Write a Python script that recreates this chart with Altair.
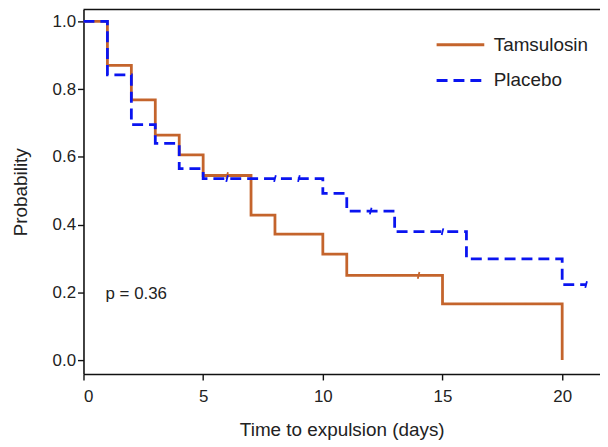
import altair as alt
import pandas as pd

# Kaplan-Meier step data
tam_time = [0, 1, 2, 3, 4, 5, 7, 8, 10, 11, 15, 20]
tam_surv = [1.0, 0.870, 0.768, 0.664, 0.606, 0.545, 0.428, 0.372, 0.313, 0.250, 0.166, 0.0]
pla_time = [0, 1, 2, 3, 4, 5, 10, 11, 13, 16, 20, 21]
pla_surv = [1.0, 0.842, 0.695, 0.640, 0.565, 0.536, 0.492, 0.440, 0.379, 0.299, 0.223, 0.223]

# censored observations
tam_cens_time = [6, 14]
tam_cens_surv = [0.545, 0.250]
pla_cens_time = [6, 8, 9, 12, 15, 21]
pla_cens_surv = [0.536, 0.536, 0.536, 0.440, 0.379, 0.223]

series = ["Tamsulosin", "Placebo"]
colors = ["#C4642C", "#0A14F0"]

x_ticks = [0, 5, 10, 15, 20]
y_ticks = [0.0, 0.2, 0.4, 0.6, 0.8, 1.0]

p_label = "p = 0.36"
p_x, p_y = 0.92, 0.195

steps = pd.DataFrame(
    [{"t": t, "s": s, "grp": "Tamsulosin", "o": 0} for t, s in zip(tam_time, tam_surv)]
    + [{"t": t, "s": s, "grp": "Placebo", "o": 1} for t, s in zip(pla_time, pla_surv)]
)
cens = pd.DataFrame(
    [{"t": t, "s": s, "grp": "Tamsulosin"} for t, s in zip(tam_cens_time, tam_cens_surv)]
    + [{"t": t, "s": s, "grp": "Placebo"} for t, s in zip(pla_cens_time, pla_cens_surv)]
)

FONT = "Liberation Sans"

xs = alt.Scale(domain=[0, 21.58], nice=False, zero=False)
ys = alt.Scale(domain=[-0.0411, 1.0352], nice=False, zero=False)
cs = alt.Scale(domain=series, range=colors)
ds = alt.Scale(domain=series, range=[[1, 0], [11, 6]])

xaxis = alt.Axis(values=x_ticks, format="d", title="Time to expulsion (days)", grid=False,
                 tickSize=6, labelPadding=9, titlePadding=16)
yaxis = alt.Axis(values=y_ticks, format=".1f", title="Probability", grid=False,
                 tickSize=6, labelPadding=2, titlePadding=22)

base_x = alt.X("t:Q", scale=xs, axis=xaxis)
base_y = alt.Y("s:Q", scale=ys, axis=yaxis)

leg = dict(
    title=None, orient="none", legendX=354, legendY=10, symbolType="stroke",
    symbolSize=2304, symbolStrokeWidth=3, labelFontSize=19, rowPadding=-25,
    labelOffset=8, labelFont=FONT, labelColor="#222",
)

lines = alt.Chart(steps).mark_line(interpolate="step-after", strokeWidth=2.8).encode(
    x=base_x,
    y=base_y,
    color=alt.Color("grp:N", scale=cs, legend=alt.Legend(**leg)),
    strokeDash=alt.StrokeDash("grp:N", scale=ds, legend=alt.Legend(**leg)),
    detail="grp:N",
    order="o:Q",
)

ticks = alt.Chart(cens).mark_point(
    shape="M-0.25,1L0.25,-1", size=45, strokeWidth=1.8, filled=False, opacity=1
).encode(
    x=alt.X("t:Q", scale=xs),
    y=alt.Y("s:Q", scale=ys),
    color=alt.Color("grp:N", scale=cs, legend=None),
)

ptext = alt.Chart(pd.DataFrame({"t": [p_x], "s": [p_y], "lab": [p_label]})).mark_text(
    align="left", baseline="middle", fontSize=17, font=FONT, color="#222"
).encode(x=alt.X("t:Q", scale=xs), y=alt.Y("s:Q", scale=ys), text="lab:N")

topline = alt.Chart(pd.DataFrame({"a": [0]})).mark_rule(color="#111", strokeWidth=1.6).encode(
    x=alt.value(0), x2=alt.value(520), y=alt.value(0)
)

chart = alt.layer(lines, ticks, ptext, topline).resolve_scale(
    color="shared", strokeDash="shared"
).properties(
    width=520, height=367,
    autosize=alt.AutoSizeParams(type="none"),
    padding={"left": 76, "top": 0, "right": 0, "bottom": 70},
).configure_view(stroke=None).configure_axis(
    domainColor="#111", domainWidth=1.6, tickColor="#111", tickWidth=1.4,
    labelFont=FONT, titleFont=FONT, labelFontSize=17, titleFontSize=19,
    labelColor="#222", titleColor="#222", titleFontWeight="normal",
)

chart.save("out.html", embed_options={"renderer": "svg", "actions": False})
